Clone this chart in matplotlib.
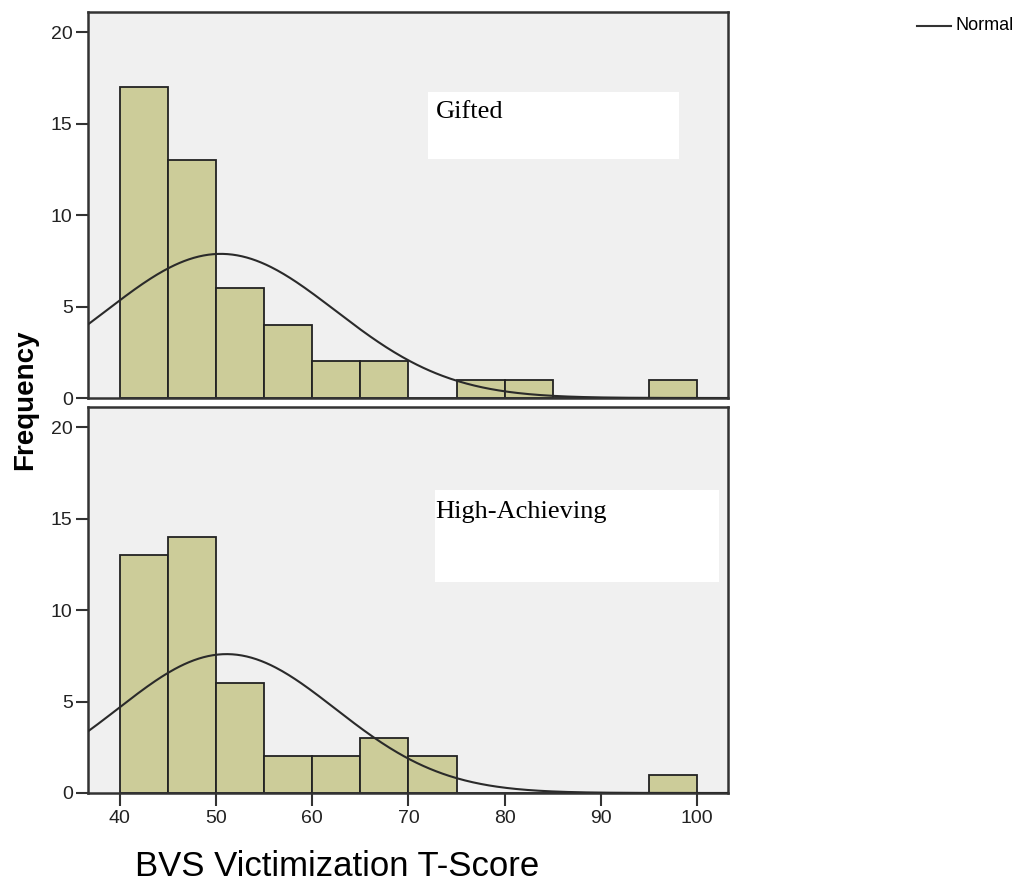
import numpy as np
import matplotlib
matplotlib.use("Agg")
import matplotlib.pyplot as plt

# bin edges (width 5) and counts
bin_left = [40, 45, 50, 55, 60, 65, 70, 75, 80, 85, 90, 95]
gifted = [17, 13, 6, 4, 2, 2, 0, 1, 1, 0, 0, 1]
high_ach = [13, 14, 6, 2, 2, 3, 2, 0, 0, 0, 0, 1]
bin_width = 5

# fitted normal (mean, sd, n)
gifted_fit = (50.5, 11.9, 47)
high_fit = (51.1, 11.3, 43)

x_ticks = [40, 50, 60, 70, 80, 90, 100]
y_ticks = [0, 5, 10, 15, 20]

plt.rcParams['font.family'] = ['Liberation Sans', 'DejaVu Sans']

fig = plt.figure(figsize=(10.21, 8.88), dpi=100)
ax1 = fig.add_axes([0.0862, 0.5518, 0.6268, 0.4347])
ax2 = fig.add_axes([0.0862, 0.1070, 0.6268, 0.4347])

bar_col = '#cccc99'
edge = '#222222'
xx = np.linspace(36.7, 103.2, 400)


def draw_panel(ax, counts, fit, label, box, text_x, text_y):
    ax.set_facecolor('#f0f0f0')
    ax.bar(bin_left, counts, width=bin_width, align='edge', color=bar_col,
           edgecolor=edge, linewidth=1.3, zorder=2)
    m, s, n = fit
    yy = n * bin_width / (s * np.sqrt(2 * np.pi)) * np.exp(-0.5 * ((xx - m) / s) ** 2)
    ax.plot(xx, yy, color='#2a2a2a', linewidth=1.5, zorder=3)
    ax.set_xlim(36.7, 103.2)
    ax.set_ylim(0, 21.1)
    ax.set_yticks(y_ticks)
    ax.set_xticks(x_ticks)
    for sp in ax.spines.values():
        sp.set_color('#333333')
        sp.set_linewidth(1.8)
    ax.tick_params(axis='y', length=9, width=1.5, color='#333333',
                   labelsize=14, labelcolor='#222222', pad=2)
    ax.add_patch(plt.Rectangle((box[0], box[1]), box[2], box[3],
                               transform=ax.transAxes, facecolor='white',
                               edgecolor='none', zorder=4))
    ax.text(text_x, text_y, label, transform=ax.transAxes,
            family=['Liberation Serif'], fontsize=19, va='baseline', ha='left', zorder=5)


draw_panel(ax1, gifted, gifted_fit, 'Gifted', (0.531, 0.619, 0.392, 0.174), 0.543, 0.725)
draw_panel(ax2, high_ach, high_fit, 'High-Achieving', (0.542, 0.546, 0.444, 0.240), 0.542, 0.712)

ax1.tick_params(axis='x', bottom=False, labelbottom=False)
ax2.tick_params(axis='x', length=9, width=1.5, color='#333333',
                labelsize=14, labelcolor='#222222', pad=3)

fig.text(0.025, 0.55, 'Frequency', rotation=90, fontsize=20, fontweight='bold',
         ha='center', va='center')
fig.text(0.330, 0.006, 'BVS Victimization T-Score', fontsize=25,
         ha='center', va='bottom')

# legend
fig.lines.append(plt.Line2D([0.898, 0.931], [0.971, 0.971], transform=fig.transFigure,
                            color='#333333', linewidth=1.5))
fig.text(0.936, 0.971, 'Normal', fontsize=13, ha='left', va='center')

fig.savefig('out.png', dpi=100, facecolor='white')
